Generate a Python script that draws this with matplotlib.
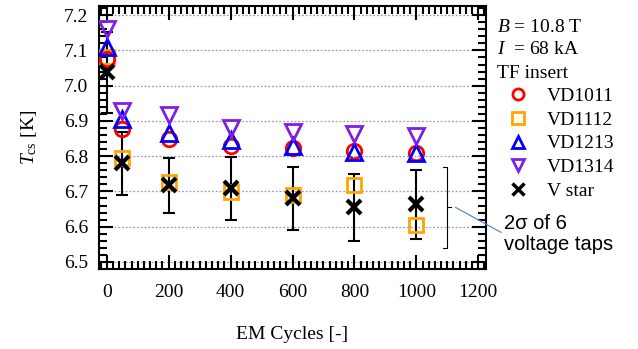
import matplotlib
matplotlib.use("Agg")
import matplotlib.pyplot as plt
from matplotlib.lines import Line2D
from matplotlib.ticker import MultipleLocator

# ---- data ----
cycles = [0, 50, 200, 400, 600, 800, 1000]
vd1011 = [7.077, 6.878, 6.850, 6.830, 6.823, 6.815, 6.810]
vd1112 = [7.080, 6.795, 6.727, 6.697, 6.690, 6.717, 6.605]
vd1213 = [7.110, 6.905, 6.866, 6.846, 6.828, 6.813, 6.810]
vd1314 = [7.160, 6.928, 6.918, 6.880, 6.868, 6.862, 6.857]
vstar = [7.038, 6.780, 6.717, 6.709, 6.680, 6.655, 6.663]
vstar_err = [0.115, 0.090, 0.079, 0.089, 0.090, 0.095, 0.098]

xticks = [0, 200, 400, 600, 800, 1000, 1200]
yticks = [6.5, 6.6, 6.7, 6.8, 6.9, 7.0, 7.1, 7.2]

# bracket spanning the error bars (x, y-bottom, y-top)
bracket_x = 1100
bracket_lo, bracket_hi = 6.54, 6.77

plt.rcParams['font.family'] = ['Liberation Serif', 'DejaVu Serif']
plt.rcParams['mathtext.fontset'] = 'custom'
plt.rcParams['mathtext.rm'] = 'Liberation Serif'
plt.rcParams['mathtext.it'] = 'Liberation Serif:italic'
plt.rcParams['font.size'] = 14

W, H = 638, 349
fig = plt.figure(figsize=(W / 100, H / 100), dpi=100)
ax = fig.add_axes([99 / W, 1 - 269 / H, (486 - 99) / W, (269 - 6) / H])

red = '#FF0000'
orange = '#FFA500'
blue = '#0000FF'
purple = '#7F1FE6'

ax.set_xlim(-25, 1225)
ax.set_ylim(6.48, 7.226)

for y in yticks:
    ax.axhline(y, color='#9A9AC8', lw=0.9, ls=(0, (1.5, 1.5)), zorder=0)

ax.errorbar(cycles, vstar, yerr=vstar_err, fmt='none', ecolor='black',
            elinewidth=1.5, capsize=4.5, capthick=1.5, zorder=2)

ms = 11
mew = 2
ax.plot(cycles, vd1112, ls='none', marker='s', ms=ms * 0.92, mfc='none', mec=orange, mew=mew, zorder=3)
ax.plot(cycles, vd1011, ls='none', marker='o', ms=ms * 0.95, mfc='none', mec=red, mew=mew, zorder=3)
ax.plot(cycles, vd1213, ls='none', marker='^', ms=ms * 1.05, mfc='none', mec=blue, mew=mew, zorder=4)
ax.plot(cycles, vd1314, ls='none', marker='v', ms=ms * 1.05, mfc='none', mec=purple, mew=mew, zorder=4)
ax.plot(cycles, vstar, ls='none', marker='x', ms=9.5, mec='black', mew=3, zorder=5)

# bracket
bw = 15
ax.plot([bracket_x - bw, bracket_x, bracket_x, bracket_x - bw],
        [bracket_hi, bracket_hi, bracket_lo, bracket_lo], color='black', lw=0.8, zorder=2)
ymid = (bracket_lo + bracket_hi) / 2
ax.plot([bracket_x, bracket_x + 12], [ymid, ymid], color='black', lw=0.8, zorder=2)

ax.annotate('2σ of 6\nvoltage taps', xy=(bracket_x + 26, ymid),
            xytext=(504 / W, 1 - 234 / H), textcoords='figure fraction',
            ha='left', va='center', family=['Liberation Sans', 'DejaVu Sans'],
            fontsize=14.5, linespacing=1.15,
            arrowprops=dict(arrowstyle='-', color='#5B8DC0', lw=0.9,
                            relpos=(0, 0.5), shrinkA=0, shrinkB=0),
            annotation_clip=False)

ax.set_xticks(xticks)
ax.set_yticks(yticks)
ax.set_yticklabels([f'{v:.1f}' for v in yticks])
ax.xaxis.set_minor_locator(MultipleLocator(20))
ax.yaxis.set_minor_locator(MultipleLocator(0.02))
ax.tick_params(which='both', direction='in', top=True, right=True, width=1.5, labelsize=14)
ax.tick_params(axis='x', which='major', length=10, pad=11)
ax.tick_params(axis='y', which='major', length=10, pad=8)
ax.tick_params(which='minor', length=6)
for s in ax.spines.values():
    s.set_linewidth(1.5)

ax.set_xlabel('EM Cycles [-]', fontsize=14, labelpad=18)
ax.set_ylabel(r'$T_{\mathrm{cs}}$ [K]', fontsize=14, labelpad=18)

# header text for legend
fig.text(497 / W, 1 - 28 / H, r'$B$ = 10.8 T', ha='left', va='center', fontsize=14)
fig.text(497 / W, 1 - 50 / H, r'$I$  = 68 kA', ha='left', va='center', fontsize=14)
fig.text(497 / W, 1 - 73 / H, 'TF insert', ha='left', va='center', fontsize=14)

handles = [
    Line2D([], [], ls='none', marker='o', ms=8, mfc='none', mec=red, mew=2),
    Line2D([], [], ls='none', marker='s', ms=8, mfc='none', mec=orange, mew=2),
    Line2D([], [], ls='none', marker='^', ms=9, mfc='none', mec=blue, mew=2),
    Line2D([], [], ls='none', marker='v', ms=9, mfc='none', mec=purple, mew=2),
    Line2D([], [], ls='none', marker='x', ms=8, mec='black', mew=2.5),
]
labels = ['VD1011', 'VD1112', 'VD1213', 'VD1314', 'V star']
fig.legend(handles, labels, loc='upper left', bbox_to_anchor=(508 / W, 1 - 87.5 / H),
           frameon=False, fontsize=14, handlelength=1.0, handletextpad=1.0,
           labelspacing=0.31, borderpad=0, borderaxespad=0)

fig.savefig('out.png', dpi=100)
